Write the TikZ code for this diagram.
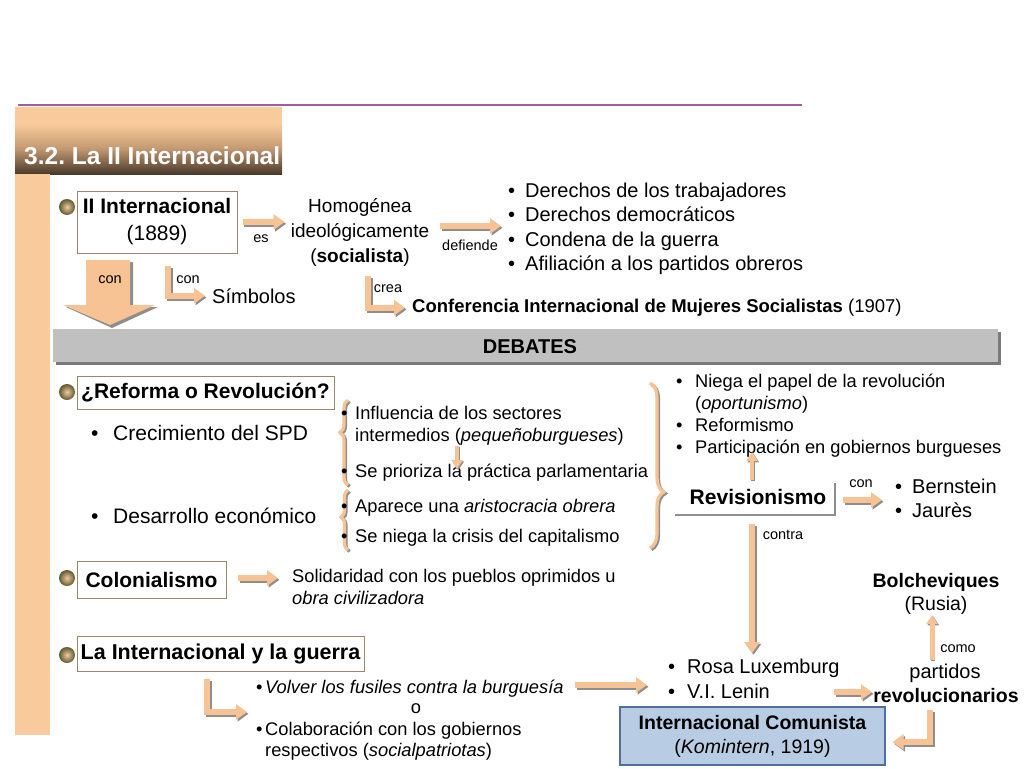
\documentclass[tikz,border=0pt]{standalone}
\usepackage{fontspec}
\setmainfont{Liberation Sans}
\usetikzlibrary{arrows.meta,decorations.pathreplacing,calc}
\frenchspacing
\definecolor{peach}{HTML}{F7C394}
\definecolor{strip}{HTML}{F9CA9C}
\definecolor{shad}{HTML}{8E8E8E}
\definecolor{boxline}{HTML}{9C8670}
\definecolor{purp}{HTML}{A45C9C}
\definecolor{titdark}{HTML}{4A3A2A}
\definecolor{titmid}{HTML}{C49A72}
\definecolor{barg}{HTML}{C0C0C0}
\definecolor{bardark}{HTML}{7A7A7A}
\definecolor{kfill}{HTML}{B8CCE4}
\definecolor{kline}{HTML}{4F6F9F}
\definecolor{ballin}{HTML}{F2C9A0}
\definecolor{ballout}{HTML}{5E5A30}
\newcommand{\fsz}[2]{\fontsize{#1pt}{#2pt}\selectfont}
\newcommand{\blt}[1]{\makebox[#1pt][l]{•}}
\tikzset{
  txt/.style={inner sep=0pt, anchor=base west, yshift=-6.5pt, font=\fsz{18.3}{22}},
  bigt/.style={inner sep=0pt, anchor=base west, yshift=-7pt, font=\fsz{20}{24}},
  ctr/.style={inner sep=0pt, anchor=base, yshift=-7pt},
  lbl/.style={inner sep=0pt, anchor=base, yshift=-5pt, font=\fsz{14.5}{17}},
  boxn/.style={draw=boxline, line width=1pt, fill=white, align=center, inner sep=2pt, font=\fsz{21}{27}},
  parrow/.style={line width=6pt, draw=peach, -{Triangle[length=11pt,width=15pt]},
    preaction={draw=shad, line width=6pt, -{Triangle[length=11pt,width=15pt]},
      transform canvas={shift={(1.5pt,-1.8pt)}}}},
  tarrow/.style={line width=4pt, draw=peach, -{Triangle[length=9pt,width=11pt]},
    preaction={draw=shad, line width=4pt, -{Triangle[length=9pt,width=11pt]},
      transform canvas={shift={(1.3pt,-1.3pt)}}}},
  pbrace/.style={decorate, decoration={brace, amplitude=#1}, line width=3.2pt},
}
\begin{document}
\begin{tikzpicture}[x=1pt,y=-1pt]
\fill[white] (0,0) rectangle (1024,768);
\useasboundingbox (0,0) rectangle (1024,768);
% title band
\draw[purp, line width=1.2pt] (18,105) -- (802,105);
\fill[strip] (15,107) rectangle (282,124);
\shade[top color=strip, bottom color=titmid] (15,124) rectangle (282,148);
\shade[top color=titmid, bottom color=titdark] (15,148) rectangle (282,174);
\fill[strip] (15,174) rectangle (50,735);
\node[anchor=base west, inner sep=0pt, text=white, font=\bfseries\fsz{24.5}{28}] (title) at (24,164.5) {3.2. La II Internacional};
% ball bullets
\foreach \yy in {207,392,578,655}
  \shade[inner color=ballin, outer color=ballout] (67,\yy) circle (8);
% II Internacional
\node[boxn, minimum width=160pt, minimum height=62pt] (ii) at (157,222) {\textbf{II Internacional}\\(1889)};
\node[inner sep=0pt, align=center, font=\fsz{19}{25}] (homog) at (360,232) {Homogénea\\ideológicamente\\(\textbf{socialista})};
\draw[parrow] ($(ii.east)+(5,0)$) -- ($(homog.west |- ii.east)+(-6,0)$);
\node[lbl] (les) at (261,237) {es};
\node[bigt] (d1) at (508,190) {\blt{17}Derechos de los trabajadores};
\node[bigt] (d2) at (508,214) {\blt{17}Derechos democráticos};
\node[bigt] (d3) at (508,239) {\blt{17}Condena de la guerra};
\node[bigt] (d4) at (508,263) {\blt{17}Afiliación a los partidos obreros};
\coordinate (defS) at (440,226);
\coordinate (defE) at (501,226);
\draw[parrow] (defS) -- (defE);
\node[lbl] (ldef) at (470,245) {defiende};
% big arrow con
\fill[shad] (89,262) -- (133,262) -- (133,307) -- (158,307) -- (112,328) -- (66,307) -- (89,307) -- cycle;
\fill[peach] (86,260) -- (130,260) -- (130,305) -- (155,305) -- (110,325) -- (63,305) -- (86,305) -- cycle;
\node[lbl] (lcon1) at (110,278) {con};
\node[bigt] (simb) at (212,296) {Símbolos};
\coordinate (simS) at (168,266);
\draw[parrow] (simS) |- ($(simb.west)+(-7,0)$);
\node[lbl] (lcon2) at (188,278) {con};
\node[txt, font=\fsz{18.5}{22}] (conf) at (412,306) {\textbf{Conferencia Internacional de Mujeres Socialistas} (1907)};
\coordinate (creaS) at (368,276);
\draw[parrow] (creaS) |- ($(conf.west)+(-7,0)$);
\node[lbl] (lcrea) at (388,287) {crea};
% DEBATES bar
\fill[bardark] (56,332) rectangle (1001,365);
\fill[barg] (53,329) rectangle (998,362);
\node[ctr, font=\bfseries\fsz{20}{24}] (deb) at (530,346) {DEBATES};
% Reforma
\node[boxn, minimum width=257pt, minimum height=33pt, font=\bfseries\fsz{21}{25}] (ref) at (205.5,392.5) {¿Reforma o Revolución?};
\node[bigt, yshift=-0.5pt, font=\fsz{21}{25}] (crec) at (91,433) {\blt{22}Crecimiento del SPD};
\node[bigt, yshift=-0.5pt, font=\fsz{21}{25}] (desa) at (91,516) {\blt{22}Desarrollo económico};
% braces
\draw[shad, pbrace=8pt, decoration={aspect=0.62}] (349.5,486.5) -- (349.5,401.5);
\draw[peach, pbrace=8pt, decoration={aspect=0.62}] (348,485) -- (348,400);
\draw[shad, pbrace=7pt, decoration={aspect=0.55}] (349.5,551.5) -- (349.5,491.5);
\draw[peach, pbrace=7pt, decoration={aspect=0.55}] (348,550) -- (348,490);
\draw[shad, pbrace=14pt, decoration={aspect=0.66}] (651.5,384.5) -- (651.5,549.5);
\draw[peach, pbrace=14pt, decoration={aspect=0.66}] (650,383) -- (650,548);
\node[txt] (inf1) at (341,413) {\blt{14}Influencia de los sectores};
\node[txt] (inf2) at (355,435) {intermedios (\textit{pequeñoburgueses})};
\node[txt] (prio) at (341,471) {\blt{14}Se prioriza la práctica parlamentaria};
\coordinate (infD) at (457,446);
\coordinate (prioU) at (457,469);
\draw[tarrow] (infD) -- (prioU);
\node[txt] (apar) at (341,506) {\blt{14}Aparece una \textit{aristocracia obrera}};
\node[txt] (nieg) at (341,536) {\blt{14}Se niega la crisis del capitalismo};
% Revisionismo
\node[ctr, yshift=-0.5pt, font=\bfseries\fsz{21}{25}] (rev) at (758,497) {Revisionismo};
\draw[shad, line width=1.5pt] (675,515) -- (835,515) -- (835,483);
\node[txt] (r1) at (676,381) {\blt{19}Niega el papel de la revolución};
\node[txt] (r2) at (695,403) {(\textit{oportunismo})};
\node[txt] (r3) at (676,425) {\blt{19}Reformismo};
\node[txt] (r4) at (676,447) {\blt{19}Participación en gobiernos burgueses};
\coordinate (revU) at (752,480);
\coordinate (r4D) at (752,452);
\draw[tarrow] (revU) -- (r4D);
\node[bigt] (bern) at (895,486) {\blt{17}Bernstein};
\node[bigt] (jaur) at (895,510) {\blt{17}Jaurès};
\coordinate (revE) at (843,500);
\coordinate (bernW) at (882,500);
\draw[parrow] (revE) -- (bernW);
\node[lbl] (lcon3) at (861,482) {con};
\coordinate (revD) at (752,524);
\coordinate (rosaN) at (752,653);
\draw[parrow] (revD) -- (rosaN);
\node[lbl] (lcontra) at (783,534) {contra};
% Colonialismo
\node[boxn, minimum width=149pt, minimum height=37pt] (col) at (151.5,579.5) {\textbf{Colonialismo}};
\node[txt] (sol1) at (292,576) {Solidaridad con los pueblos oprimidos u};
\node[txt] (sol2) at (292,598) {\textit{obra civilizadora}};
\coordinate (colE) at (238,578);
\coordinate (solW) at (278,578);
\draw[parrow] (colE) -- (solW);
% Guerra
\node[boxn, minimum width=287pt, minimum height=35pt, font=\bfseries\fsz{21.5}{25}] (gue) at (220.5,653.5) {La Internacional y la guerra};
\node[txt] (volv) at (256,687) {\blt{9}\textit{Volver los fusiles contra la burguesía}};
\node[txt, anchor=base] (oo) at (416,707) {o};
\node[txt] (cola) at (256,729) {\blt{9}Colaboración con los gobiernos};
\node[txt] (resp) at (265,750) {respectivos (\textit{socialpatriotas})};
\coordinate (gueS) at (207,679);
\coordinate (gueE) at (247,712);
\draw[parrow] (gueS) |- (gueE);
\node[bigt] (rosa) at (668,666) {\blt{19}Rosa Luxemburg};
\node[bigt] (lenin) at (668,691) {\blt{19}V.I. Lenin};
\coordinate (volvE) at (575,685);
\coordinate (rosaW) at (647,685);
\draw[parrow] (volvE) -- (rosaW);
\node[ctr, font=\fsz{20}{24}] (part) at (945,671) {partidos};
\node[ctr, font=\bfseries\fsz{19.5}{24}] (revo) at (946,695) {revolucionarios};
\coordinate (leninE) at (834,692);
\coordinate (revoW) at (872,692);
\draw[parrow] (leninE) -- (revoW);
\node[ctr, font=\bfseries\fsz{19.5}{24}] (bolc) at (936,580) {Bolcheviques};
\node[ctr, font=\fsz{19.5}{24}] (rusia) at (936,603) {(Rusia)};
\coordinate (partN) at (932,660);
\coordinate (rusiaS) at (932,615);
\draw[tarrow, line width=5pt] (partN) -- (rusiaS);
\node[lbl] (lcomo) at (958,647) {como};
% Komintern
\node[draw=kline, fill=kfill, line width=1.2pt, minimum width=265pt, minimum height=58pt, align=center, font=\fsz{19.5}{24}] (kom) at (752.5,736) {\textbf{Internacional Comunista}\\(\textit{Komintern}, 1919)};
\coordinate (revoS) at (930,710);
\draw[parrow] (revoS) |- ($(kom.east)+(7,6)$);
\end{tikzpicture}
\end{document}
